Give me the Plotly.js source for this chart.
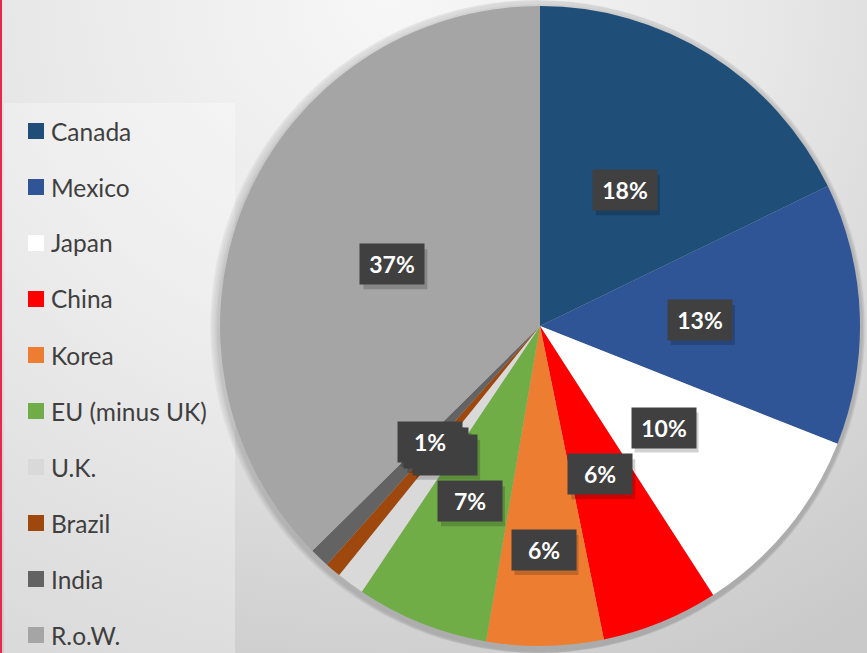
<!DOCTYPE html>
<html><head><meta charset="utf-8">
<script src="https://cdn.plot.ly/plotly-3.0.1.min.js"></script>
<style>
html,body{margin:0;padding:0;}
body{width:867px;height:653px;overflow:hidden;position:relative;
background: radial-gradient(ellipse 95% 115% at 45% 0%, #f7f7f7 0%, #e8e8e8 45%, #d4d4d4 80%, #c9c9c9 100%);}
#chart{position:absolute;left:0;top:0;width:867px;height:653px;}
#redline{position:absolute;left:0;top:0;width:2px;height:653px;background:#e8274b;z-index:5;}
</style></head>
<body>
<div id="chart"></div><div id="redline"></div>
<script>
const labels = ['Canada','Mexico','Japan','China','Korea','EU (minus UK)','U.K.','Brazil','India','R.o.W.'];
const values = [17.8, 13.2, 9.9, 5.9, 5.9, 6.7, 1.4, 0.8, 1.0, 37.4];
const colors = ['#1F4E79','#2F5597','#FFFFFF','#FF0000','#ED7D31','#70AD47','#D9D9D9','#9E480E','#636363','#A5A5A5'];
// label placement (fraction of radius) - styling only
const labelRadius = [0.5,0.5,0.5,0.5,0.7,0.59,0.5,0.5,0.5,0.5];

const W = 867, H = 653;
const cx = 540, cy = 326, R = 320;
const total = values.reduce((a,b)=>a+b,0);

const annotations = [];
const shapes = [];

// legend background box
shapes.push({type:'rect', xref:'paper', yref:'paper', layer:'below',
  x0:4/W, x1:235/W, y0:0, y1:1-103/H, line:{width:0}, fillcolor:'rgba(255,255,255,0.3)'});

// custom legend built from arrays
labels.forEach((lab,i)=>{
  const yc = 131 + 56*i;
  shapes.push({type:'rect', xref:'paper', yref:'paper', x0:28/W, x1:44/W,
    y0:1-(yc+8)/H, y1:1-(yc-8)/H, line:{width:0}, fillcolor:colors[i]});
  annotations.push({xref:'paper', yref:'paper', x:49/W, y:1-(yc)/H, xanchor:'left', yanchor:'middle',
    text:lab, showarrow:false, font:{family:'Lato, sans-serif', size:24.5, color:'#3f3f3f'}});
});

// data labels positioned from the slice angles
let cum = 0;
values.forEach((v,i)=>{
  const mid = (cum + v/2)/total*2*Math.PI;
  cum += v;
  const r = R*labelRadius[i];
  const px = cx + r*Math.sin(mid);
  const py = cy - r*Math.cos(mid);
  const txt = Math.round(v/total*100)+'%';
  // drop shadow of the label box
  shapes.push({type:'rect', xref:'paper', yref:'paper', layer:'above',
    x0:(px-29)/W, x1:(px+35)/W, y0:1-(py+25)/H, y1:1-(py-15)/H,
    line:{width:0}, fillcolor:'rgba(0,0,0,0.18)'});
  annotations.push({xref:'paper', yref:'paper', x:px/W, y:1-py/H, xanchor:'center', yanchor:'middle',
    text:txt, showarrow:false, width:64, height:40, borderpad:0,
    bgcolor:'#404040', font:{family:'Lato, sans-serif', size:23, color:'#ffffff', weight:'bold'}});
});

// soft shadow rings behind the pie (decorative)
const shadowTraces = [14, 11, 8, 5, 3].map((extra)=>({
  type:'pie', values:[1], labels:['shadow'], sort:false, textinfo:'none', hoverinfo:'skip', showlegend:false,
  marker:{colors:['rgba(0,0,0,0.035)'], line:{width:0}},
  domain:{x:[(cx-R-extra)/W,(cx+R+extra)/W], y:[1-(cy+R+extra+3)/H, 1-(cy-R-extra+3)/H]}
}));

const trace = {
  type:'pie', labels:labels, values:values, sort:false, direction:'clockwise', rotation:0,
  marker:{colors:colors, line:{width:0}},
  textinfo:'none', hoverinfo:'skip', showlegend:false,
  domain:{x:[(cx-R)/W,(cx+R)/W], y:[1-(cy+R)/H, 1-(cy-R)/H]}
};

Plotly.newPlot('chart',[...shadowTraces, trace],{
  width:W, height:H, margin:{l:0,r:0,t:0,b:0},
  paper_bgcolor:'rgba(0,0,0,0)', plot_bgcolor:'rgba(0,0,0,0)',
  showlegend:false, shapes:shapes, annotations:annotations
},{displayModeBar:false, staticPlot:true});
</script>
</body></html>
